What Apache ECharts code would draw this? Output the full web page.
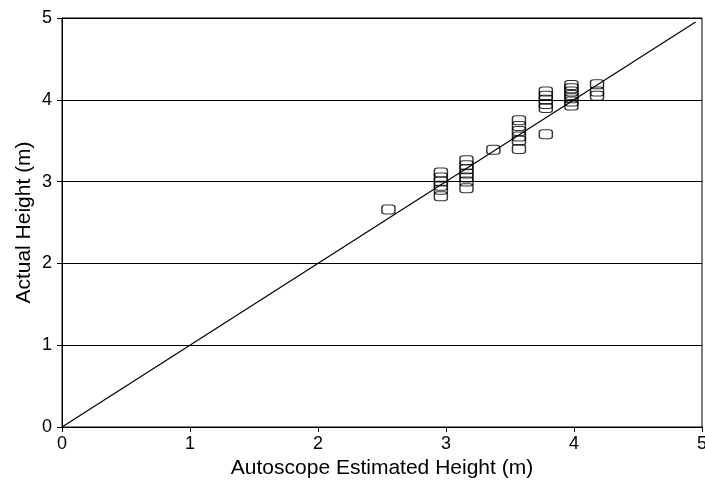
<!DOCTYPE html>
<html>
<head>
<meta charset="utf-8">
<script src="https://cdn.jsdelivr.net/npm/echarts@6/dist/echarts.min.js"></script>
<style>html,body{margin:0;padding:0;background:#fff}#c{width:705px;height:487px}</style>
</head>
<body>
<div id="c"></div>
<script>
// Autoscope estimated height (x) columns and actual heights (y)
const estimated = [2.55, 2.96, 3.16, 3.37, 3.57, 3.78, 3.98, 4.18];
const actualByColumn = [
  [2.66],
  [3.11, 3.05, 3.0, 2.95, 2.9, 2.82],
  [3.26, 3.2, 3.15, 3.1, 3.05, 3.0, 2.92],
  [3.39],
  [3.75, 3.68, 3.62, 3.55, 3.5, 3.4],
  [4.1, 4.05, 4.0, 3.95, 3.9, 3.58],
  [4.18, 4.14, 4.1, 4.06, 4.02, 3.98, 3.93],
  [4.19, 4.1, 4.05]
];
const lineStart = [0, 0];
const lineEnd = [4.95, 4.95];
const xTicks = [0, 1, 2, 3, 4, 5];
const yTicks = [0, 1, 2, 3, 4, 5];

const points = [];
estimated.forEach((x, i) => actualByColumn[i].forEach(y => points.push([x, y])));

const font = 'Liberation Sans';
const chart = echarts.init(document.getElementById('c'), null, {renderer: 'canvas'});
chart.setOption({
  animation: false,
  backgroundColor: '#fff',
  grid: {left: 62, right: 3, top: 18, bottom: 60, outerBoundsMode: 'none', containLabel: false,
         show: true, borderColor: '#000', borderWidth: 1, backgroundColor: 'transparent'},
  xAxis: {
    type: 'value', min: 0, max: 5, interval: 1,
    name: 'Autoscope Estimated Height (m)', nameLocation: 'middle', nameGap: 31,
    nameTextStyle: {color: '#000', fontSize: 21, fontFamily: font},
    axisLine: {show: true, lineStyle: {color: '#000', width: 1}},
    axisTick: {show: true, length: 5, lineStyle: {color: '#000'}},
    axisLabel: {color: '#000', fontSize: 18, fontFamily: font, margin: 8, formatter: v => xTicks.includes(v) ? String(v) : ''},
    splitLine: {show: false}
  },
  yAxis: {
    type: 'value', min: 0, max: 5, interval: 1,
    name: 'Actual Height (m)', nameLocation: 'middle', nameGap: 27, nameMoveOverlap: false,
    nameTextStyle: {color: '#000', fontSize: 21, fontFamily: font},
    axisLine: {show: true, lineStyle: {color: '#000', width: 1}},
    axisTick: {show: true, length: 5, lineStyle: {color: '#000'}},
    axisLabel: {color: '#000', fontSize: 18, fontFamily: font, margin: 10, formatter: v => yTicks.includes(v) ? String(v) : ''},
    splitLine: {show: true, lineStyle: {color: '#000', width: 1}}
  },
  series: [
    {
      type: 'line', data: [lineStart, lineEnd], symbol: 'none',
      lineStyle: {color: '#000', width: 1.2}, z: 2
    },
    {
      type: 'scatter', data: points, symbol: 'roundRect', symbolSize: [13, 9],
      itemStyle: {color: 'rgba(255,255,255,0)', borderColor: '#000', borderWidth: 1.2}, z: 3
    }
  ]
});
</script>
</body>
</html>
